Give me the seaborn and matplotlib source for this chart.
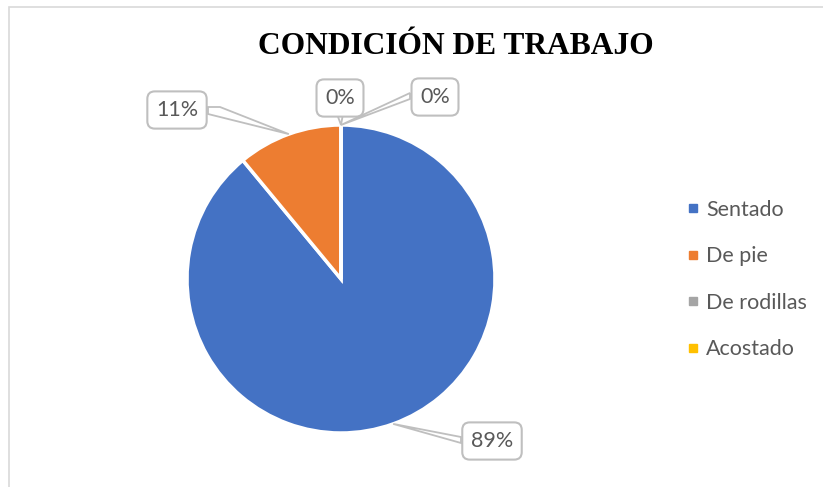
import numpy as np
import matplotlib
matplotlib.use("Agg")
import matplotlib.pyplot as plt
import seaborn as sns
from matplotlib.lines import Line2D
from matplotlib.patches import Polygon, Rectangle

# Data
categories = ["Sentado", "De pie", "De rodillas", "Acostado"]
values = [89, 11, 0, 0]
labels = ["89%", "11%", "0%", "0%"]
title = "CONDICIÓN DE TRABAJO"

sns.set_theme(style="white")
plt.rcParams['font.family'] = ['Lato', 'DejaVu Sans']
palette = sns.color_palette(["#4472C4", "#ED7D31", "#A5A5A5", "#FFC000"])

W, H = 823, 487
fig = plt.figure(figsize=(W / 100, H / 100), dpi=100)
ax = fig.add_axes([0, 0, 1, 1])

# pie geometry (pixel units, y measured upward)
cx, cy, r = 341, H - 279, 154
wedges, _ = ax.pie(values, colors=palette, startangle=90, counterclock=False,
                   center=(cx, cy), radius=r,
                   wedgeprops=dict(edgecolor='white', linewidth=2.5))
ax.set_xlim(0, W)
ax.set_ylim(0, H)
ax.set_aspect('auto')
ax.set_axis_off()

# chart area border
ax.add_patch(Rectangle((9, -20), W + 20, H - 7 + 20, fill=False,
                       edgecolor='#D9D9D9', linewidth=1.2, zorder=0))

# label boxes: (box center in px from top-left, side the pointer leaves from)
label_boxes = [((492, 441), 'left'), ((177, 110), 'right'),
               ((340, 98), 'bottom'), ((435, 97), 'left')]
half_w = {'89%': 31, '11%': 31, '0%': 25}

for w, lab, ((bx, by), side) in zip(wedges, labels, label_boxes):
    mid = np.deg2rad((w.theta1 + w.theta2) / 2)
    px, py = cx + r * np.cos(mid), cy + r * np.sin(mid)
    by = H - by
    hw = half_w[lab]
    if side == 'left':
        pts = [(bx - hw, by + 4), (px, py), (bx - hw, by - 2)]
    elif side == 'right':
        pts = [(bx + hw, by + 3), (bx + hw + 12, by + 3), (px, py), (bx + hw, by - 4)]
    else:
        pts = [(bx - 3, by - 16), (px, py), (bx + 3, by - 16)]
    ax.add_patch(Polygon(pts, closed=True, facecolor='white',
                         edgecolor='#BFBFBF', linewidth=1.3, zorder=4))
    ax.text(bx, by, lab, ha='center', va='center', fontsize=15.5, color='#595959',
            zorder=5,
            bbox=dict(boxstyle='round,pad=0.4,rounding_size=0.35',
                      facecolor='white', edgecolor='#BFBFBF', linewidth=1.5))

# title
ax.text(456, H - 47, title, ha='center', va='center', fontsize=22.7,
        fontweight='bold', color='black',
        family=['Liberation Serif', 'DejaVu Serif'])

# legend
handles = [Line2D([], [], marker='s', linestyle='none', markersize=6,
                  markerfacecolor=c, markeredgecolor=c) for c in palette]
fig.legend(handles, categories, loc='center left',
           bbox_to_anchor=(688 / W, 1 - 279.5 / H), frameon=False,
           fontsize=15.5, labelcolor='#595959', handlelength=0.5,
           handletextpad=0.35, borderpad=0, borderaxespad=0, labelspacing=1.23)

plt.savefig("out.png", dpi=100, facecolor='white')
plt.close()
